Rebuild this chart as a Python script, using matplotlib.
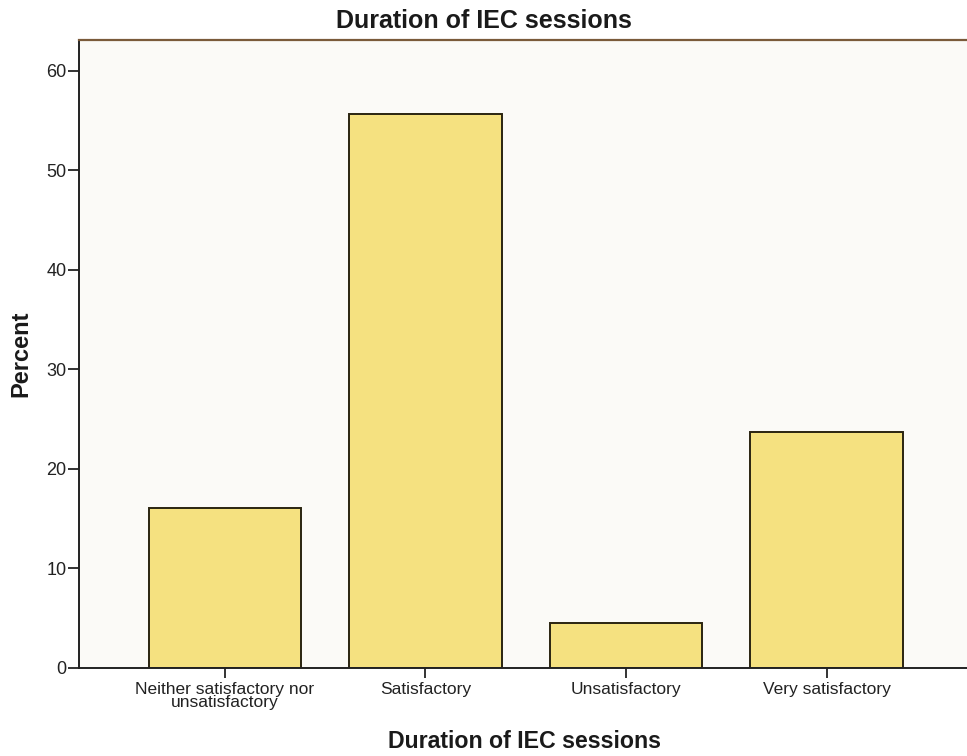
import matplotlib.pyplot as plt
import numpy as np

categories = ['Neither satisfactory nor\nunsatisfactory', 'Satisfactory',
              'Unsatisfactory', 'Very satisfactory']
percent = [16.1, 55.7, 4.5, 23.7]
yticks = [0, 10, 20, 30, 40, 50, 60]

plt.rcParams.update({'font.family': 'Liberation Sans'})

fig = plt.figure(figsize=(9.67, 7.56), dpi=100)
fig.patch.set_facecolor('white')
ax = fig.add_axes([79/967, 88/756, 1 - 79/967, (668-40)/756])
ax.set_facecolor('#fbfaf7')

x = np.arange(len(categories))
ax.bar(x, percent, width=0.76, color='#f5e180', edgecolor='#2a2410', linewidth=1.4, zorder=2)

ax.set_xlim(-0.727, 3.70)
ax.set_ylim(0, 63.1)
ax.set_xticks(x)
ax.set_xticklabels(categories, fontsize=12.5, linespacing=0.85, color='#222222')
ax.set_yticks(yticks)
ax.set_yticklabels([str(t) for t in yticks], fontsize=13, color='#222222')
ax.tick_params(axis='y', length=8, width=1.4, color='#333333', pad=1)
ax.tick_params(axis='x', length=7, width=1.4, color='#333333', pad=3)

ax.spines['right'].set_visible(False)
ax.spines['top'].set_color('#7a5a3a')
ax.spines['top'].set_linewidth(1.6)
for s in ['left', 'bottom']:
    ax.spines[s].set_color('#222222')
    ax.spines[s].set_linewidth(1.4)

fig.text(484/967, 1 - 21/756, 'Duration of IEC sessions', ha='center', va='center',
         fontsize=18, weight='bold', color='#1a1a1a')
fig.text(525/967, 1 - 742/756, 'Duration of IEC sessions', ha='center', va='center',
         fontsize=16.7, weight='bold', color='#1a1a1a')
fig.text(21/967, 1 - 354/756, 'Percent', ha='center', va='center',
         fontsize=17, weight='bold', rotation=90, color='#1a1a1a')

fig.savefig('out.png', dpi=100)
